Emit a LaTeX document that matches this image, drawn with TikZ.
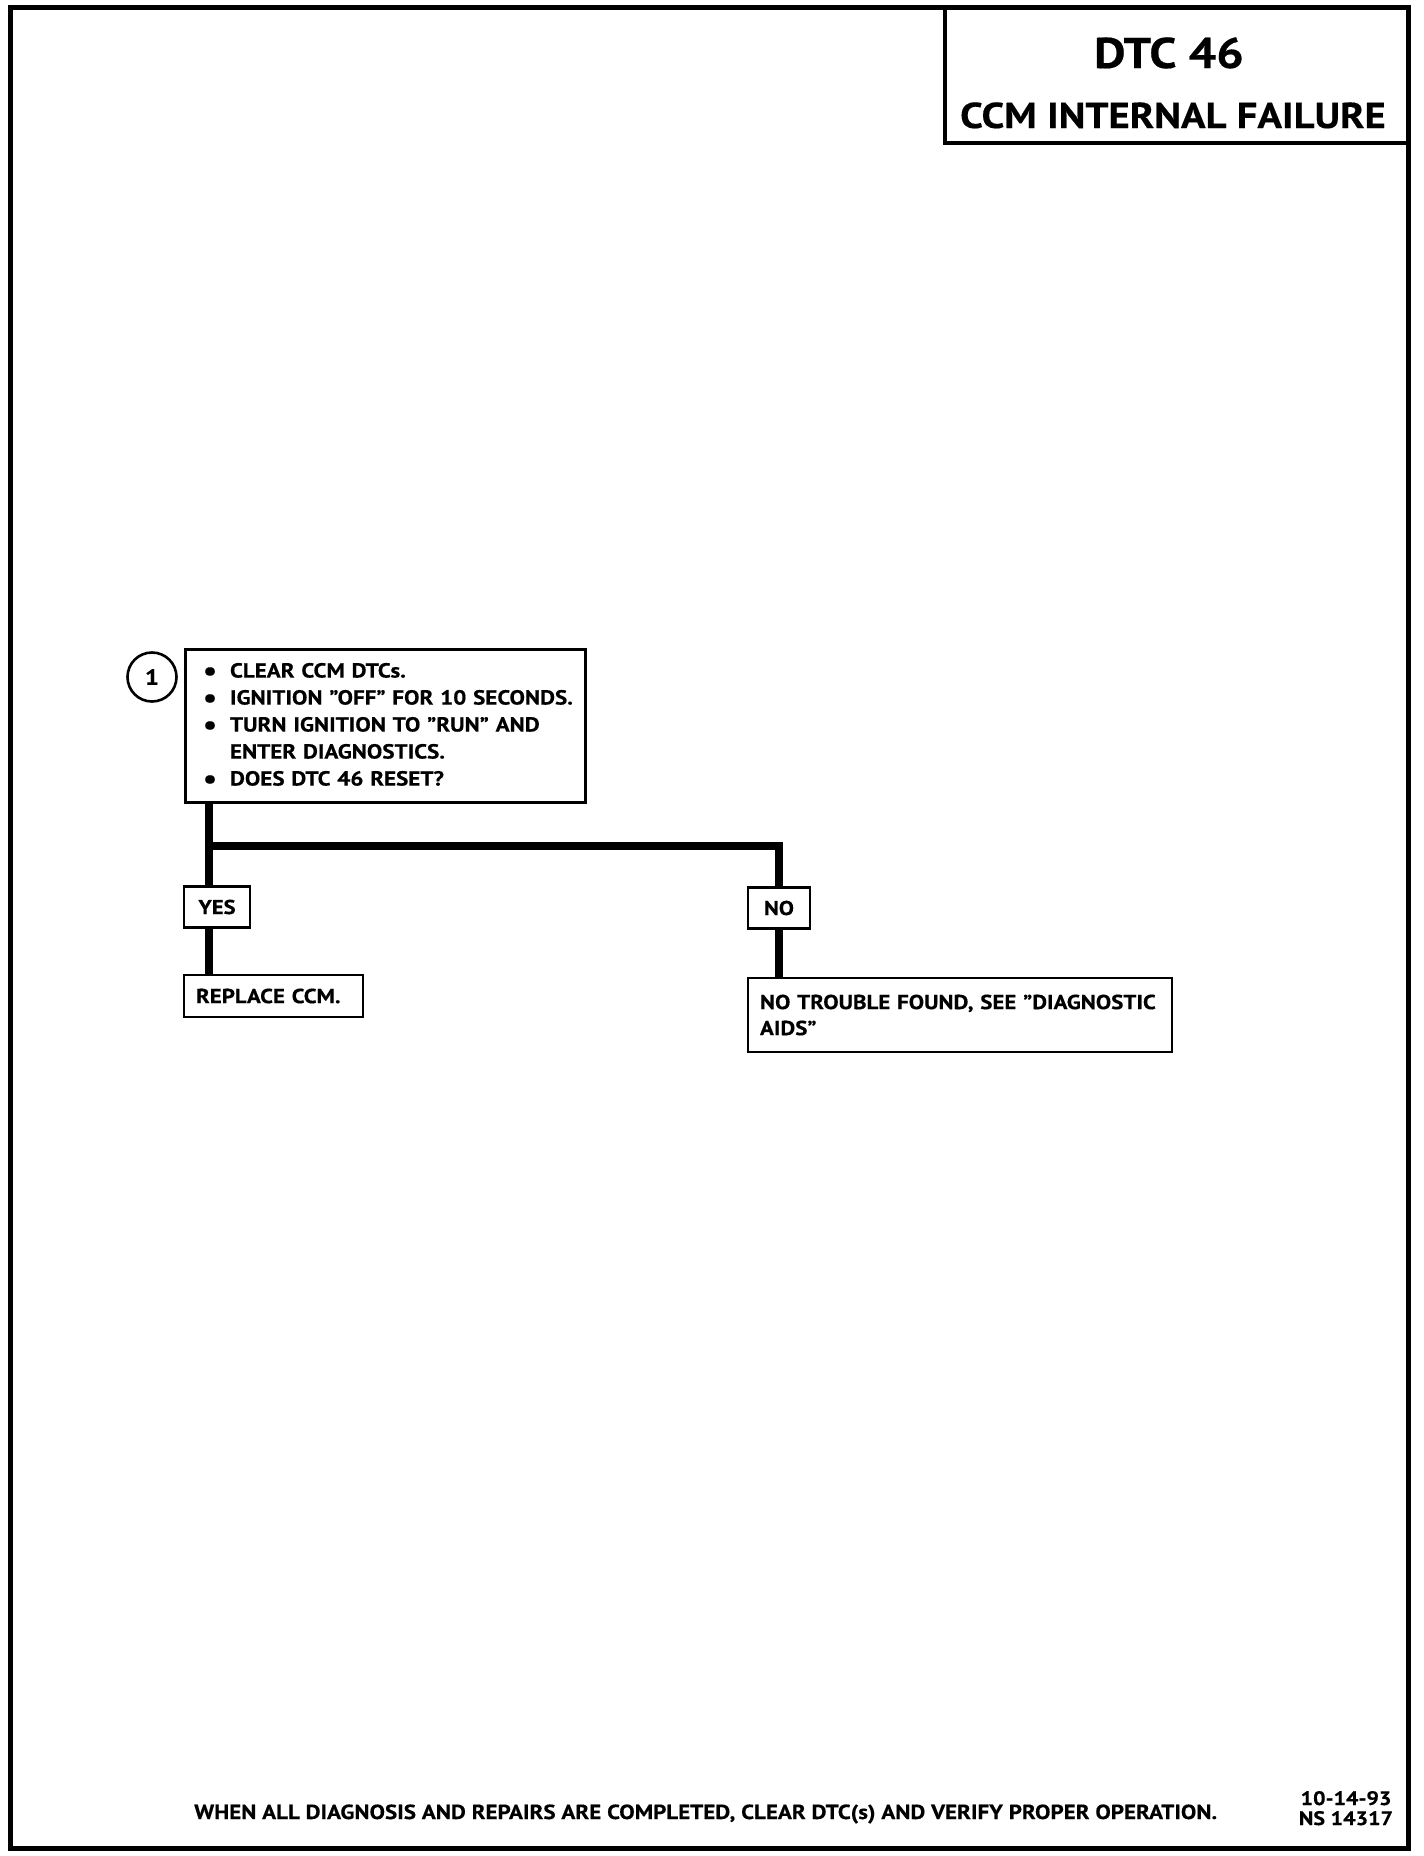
\documentclass[tikz,border=0pt]{standalone}
\usepackage{fontspec}
\usepackage{graphicx}
\setmainfont{PT Sans}[FakeStretch=1.13, BoldFeatures={FakeBold=0.4}]
\setsansfont{PT Sans}[FakeStretch=1.13, BoldFeatures={FakeBold=0.4}]
\usetikzlibrary{positioning, calc}
\newcommand{\bsize}[1]{\fontsize{#1}{27}\selectfont\bfseries}
\newcommand{\bitem}{\hspace*{9pt}\makebox[27pt][l]{\raisebox{-2.5pt}{\scalebox{1.35}{\textbullet}}}}
\tikzset{
  every picture/.style={font=\sffamily\bfseries, line width=2.6pt},
  stepbox/.style={draw, line width=3pt, align=left, text width=382pt, inner xsep=9pt, inner ysep=0pt, minimum height=153pt, font=\bsize{20.4}},
  answer/.style={draw, minimum width=#1, minimum height=41pt, inner sep=0pt, font=\bsize{20}},
  answer/.default=64pt,
  result/.style={draw, align=left, text width=#1, inner xsep=12pt, inner ysep=0pt, font=\fontsize{20.3}{26}\selectfont\bfseries},
  link/.style={line width=8pt},
  frame/.style={line width=5pt},
  note/.style={font=\bsize{20.4}, inner sep=0pt},
}

\begin{document}
\begin{tikzpicture}[x=1pt, y=-1pt, numring/.style={draw, circle, minimum size=49pt, inner sep=0pt, font=\bsize{22}}]
  \useasboundingbox (0,0) rectangle (1424,1856);
  \draw[frame] (10.5,7.5) rectangle (1408.5,1848.5);
  \node[draw, line width=4pt, minimum width=463.5pt, minimum height=135.5pt] (title) at (1176.75,75.25) {};
  \node[font=\fontsize{43}{43}\selectfont\bfseries, anchor=base, inner sep=0pt] (dtc) at (1169,68) {DTC 46};
  \node[font=\fontsize{36}{36}\selectfont\bfseries, anchor=base, inner sep=0pt] (ccm) at (1173,128) {CCM INTERNAL FAILURE};

  \node[stepbox] (step1) at (385,725.5) {\bitem CLEAR CCM DTCs.\\
    \bitem IGNITION ”OFF” FOR 10 SECONDS.\\
    \bitem TURN IGNITION TO ”RUN” AND\\
    \hspace*{36pt}ENTER DIAGNOSTICS.\\
    \bitem DOES DTC 46 RESET?};
  \node[numring] (num) at (152,677) {1};
  \coordinate (split) at (208.5,846);

  \node[answer=66pt] (yes) at (217,907) {YES};
  \node[answer=62pt] (no) at (779,908) {NO};
  \node[result=155pt, minimum height=42pt] (replace) at (273.5,996) {REPLACE CCM.};
  \node[result=400pt, minimum height=74pt] (notrouble) at (960,1015) {NO TROUBLE FOUND, SEE ”DIAGNOSTIC\\AIDS”};

  \draw[link] (step1.south -| split) -- (split |- yes.north);
  \draw[link] (split) -| (no.north);
  \draw[link] (yes.south -| split) -- (split |- replace.north);
  \draw[link] (no.south) -- (no.south |- notrouble.north);

  \node[note, anchor=base west] (footer) at (193,1819) {WHEN ALL DIAGNOSIS AND REPAIRS ARE COMPLETED, CLEAR DTC(s) AND VERIFY PROPER OPERATION.};
  \node[note, font=\bsize{19.5}, anchor=base] (date) at (1346,1805) {10-14-93};
  \node[note, font=\bsize{19.5}, anchor=base] (code) at (1346,1825) {NS 14317};
\end{tikzpicture}
\end{document}
